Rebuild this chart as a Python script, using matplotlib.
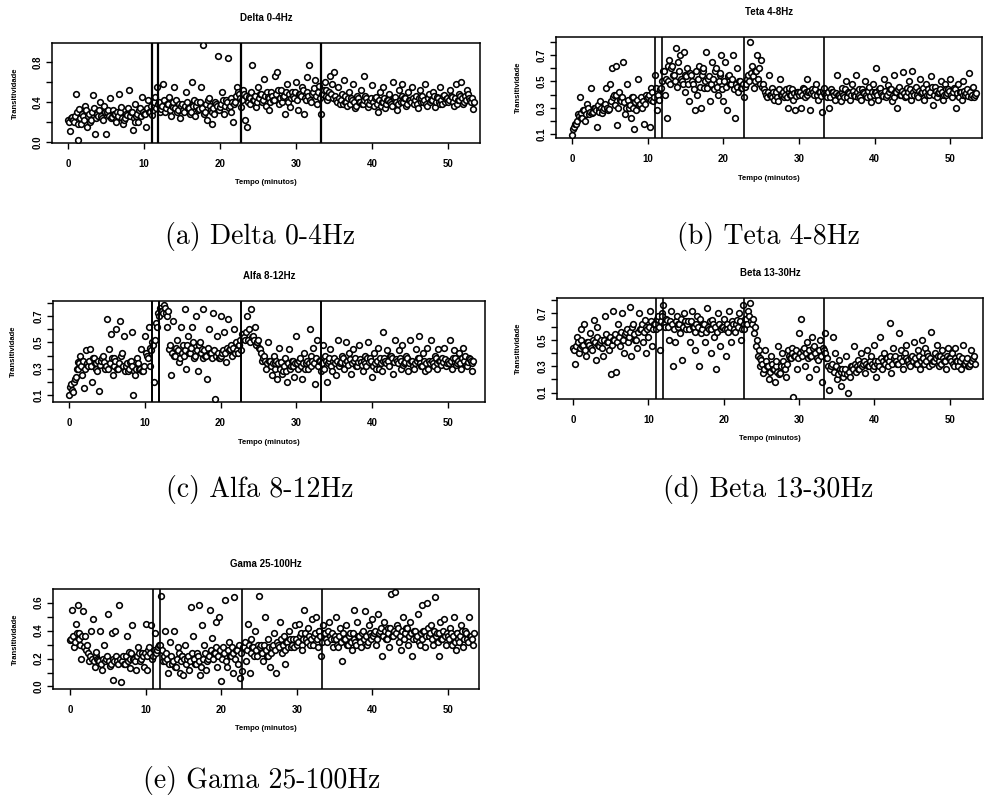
"""
Transitividade por banda de frequencia ao longo do tempo.
"""

import numpy as np
import matplotlib
matplotlib.use("Agg")
import matplotlib.pyplot as plt

plt.rcParams["font.family"] = ["Liberation Sans", "DejaVu Sans"]

# ── Dados (transitividade x100) ─────────────────────────────────────────────
# Duas listas por banda, intercaladas no tempo: amostra a cada 0.125 min.

PASSO_MIN = 0.125
MARCOS_MIN = [11.0, 11.9, 22.75, 33.3]

delta = [
    22, 11, 25, 20, 48, 2, 33, 18, 26, 36, 15, 28, 22, 47, 8, 30, 26, 40, 24, 36,
    8, 32, 44, 25, 28, 22, 30, 48, 35, 18, 24, 27, 52, 30, 12, 38, 26, 20, 34, 45,
    28, 15, 42, 30, 27, 36, 45, 55, 40, 33, 58, 30, 38, 45, 26, 35, 55, 42, 32, 24,
    38, 30, 50, 34, 28, 60, 36, 26, 40, 33, 55, 97, 30, 22, 44, 32, 18, 28, 38, 86,
    35, 50, 28, 42, 84, 36, 30, 20, 40, 55, 48, 35, 52, 22, 15, 45, 38, 77, 42, 35,
    55, 48, 40, 63, 36, 45, 32, 50, 42, 66, 70, 38, 52, 45, 28, 58, 40, 35, 50, 44,
    60, 32, 48, 55, 28, 42, 65, 77, 40, 50, 62, 38, 56, 28, 48, 60, 52, 45, 66, 58,
    70, 42, 55, 38, 48, 62, 40, 36, 50, 44, 58, 34, 46, 40, 52, 38, 66, 44, 35, 42,
    57, 36, 45, 30, 50, 40, 55, 34, 42, 48, 38, 60, 45, 32, 52, 40, 58, 44, 36, 50,
    42, 55, 38, 46, 34, 52, 44, 40, 58, 36, 48, 42, 50, 35, 45, 40, 55, 38, 47, 43,
    40, 52, 45, 36, 58, 42, 48, 60, 38, 46, 52, 44, 40, 33,
]
delta_nucleo = [
    20, 24, 22, 26, 30, 18, 24, 28, 22, 32, 26, 20, 30, 34, 24, 28, 32, 26, 22, 30,
    30, 26, 24, 32, 28, 20, 26, 30, 24, 22, 28, 34, 26, 30, 24, 20, 28, 32, 26, 30,
    28, 34, 30, 36, 32, 40, 34, 38, 30, 36, 42, 34, 38, 32, 36, 40, 34, 30, 38, 36,
    32, 36, 40, 34, 30, 38, 42, 36, 32, 40, 34, 28, 38, 42, 36, 30, 34, 40, 36, 32,
    38, 42, 36, 40, 34, 44, 40, 38, 46, 50, 44, 42, 48, 46, 40, 44, 50, 42, 46, 40,
    44, 48, 42, 46, 50, 44, 40, 46, 42, 48, 52, 44, 40, 46, 50, 42, 48, 44, 46, 50,
    42, 48, 46, 52, 44, 50, 46, 42, 48, 54, 46, 50, 44, 48, 52, 46, 42, 50, 48, 44,
    46, 40, 44, 42, 38, 46, 40, 44, 38, 42, 40, 36, 44, 40, 38, 42, 46, 40, 38, 44,
    40, 44, 38, 42, 36, 40, 44, 38, 42, 40, 36, 44, 40, 38, 42, 46, 40, 44, 38, 42,
    40, 44, 42, 38, 44, 40, 46, 42, 38, 44, 40, 42, 46, 40, 44, 38, 42, 46, 40, 44,
    42, 46, 40, 44, 38, 42, 46, 44, 40, 42, 48, 42, 44, 40,
]

teta = [
    9, 15, 18, 25, 38, 22, 28, 20, 33, 25, 45, 27, 30, 15, 28, 35, 26, 30, 45, 28,
    48, 60, 40, 62, 17, 42, 35, 65, 25, 48, 30, 22, 38, 14, 28, 52, 33, 30, 18, 40,
    38, 15, 45, 35, 55, 28, 36, 45, 58, 40, 22, 50, 48, 62, 55, 75, 65, 70, 50, 72,
    42, 60, 35, 55, 48, 28, 40, 62, 30, 58, 45, 72, 52, 35, 65, 44, 60, 40, 55, 70,
    35, 65, 28, 55, 48, 70, 22, 60, 42, 50, 45, 38, 48, 55, 80, 62, 45, 58, 70, 60,
    66, 48, 42, 38, 55, 40, 45, 36, 42, 35, 52, 40, 38, 44, 30, 45, 40, 36, 28, 42,
    40, 30, 45, 38, 52, 42, 28, 44, 40, 48, 36, 42, 27, 45, 40, 38, 30, 44, 42, 36,
    55, 40, 35, 45, 38, 50, 42, 36, 48, 40, 55, 38, 44, 36, 42, 50, 38, 46, 34, 48,
    42, 60, 36, 45, 40, 52, 38, 47, 44, 35, 55, 42, 30, 46, 40, 57, 38, 45, 50, 36,
    58, 40, 46, 38, 52, 42, 36, 48, 44, 40, 54, 32, 46, 38, 42, 50, 36, 48, 40, 44,
    52, 38, 45, 30, 48, 42, 36, 50, 40, 44, 56, 38, 46, 40,
]
teta_nucleo = [
    14, 18, 20, 24, 26, 22, 28, 25, 30, 27, 26, 30, 28, 32, 27, 30, 28, 33, 30, 29,
    35, 38, 32, 40, 30, 36, 38, 34, 30, 36, 32, 38, 30, 34, 36, 32, 38, 35, 33, 37,
    40, 36, 42, 38, 45, 40, 44, 50, 58, 52, 62, 66, 60, 55, 50, 46, 58, 52, 48, 55,
    54, 48, 56, 50, 44, 58, 52, 46, 55, 60, 50, 45, 54, 48, 52, 58, 46, 50, 56, 44,
    50, 46, 54, 48, 52, 44, 48, 46, 50, 45, 48, 46, 52, 50, 56, 54, 50, 58, 52, 48,
    46, 44, 40, 42, 40, 38, 42, 40, 38, 44, 40, 42, 40, 38, 42, 40, 44, 41, 39, 42,
    42, 40, 44, 42, 40, 43, 41, 42, 44, 40, 42, 39, 43, 41, 40, 42, 38, 42, 40, 41,
    40, 38, 42, 40, 44, 38, 41, 40, 43, 39, 42, 40, 38, 44, 41, 40, 43, 39, 42, 40,
    42, 40, 44, 41, 39, 43, 40, 42, 44, 40, 38, 42, 44, 40, 43, 41, 39, 42, 44, 40,
    42, 44, 40, 43, 41, 45, 42, 40, 44, 42, 46, 40, 43, 41, 44, 42, 40, 44, 41, 43,
    40, 42, 44, 41, 38, 42, 40, 43, 41, 39, 42, 40, 38, 41,
]

alfa = [
    10, 18, 12, 22, 30, 35, 40, 25, 15, 44, 32, 45, 20, 38, 34, 28, 13, 36, 40, 30,
    68, 45, 56, 25, 38, 60, 30, 66, 42, 55, 32, 28, 35, 58, 10, 25, 38, 30, 45, 28,
    55, 40, 62, 32, 50, 20, 65, 72, 76, 74, 78, 72, 62, 45, 25, 66, 40, 52, 35, 62,
    48, 75, 30, 55, 42, 62, 38, 70, 28, 50, 45, 75, 40, 22, 60, 42, 72, 7, 55, 38,
    70, 42, 58, 35, 68, 45, 40, 60, 50, 42, 48, 44, 56, 52, 70, 60, 75, 55, 62, 50,
    52, 45, 36, 40, 30, 50, 36, 25, 40, 34, 22, 46, 35, 28, 38, 20, 45, 32, 36, 24,
    55, 30, 38, 22, 42, 34, 30, 60, 40, 46, 18, 52, 36, 28, 48, 40, 20, 36, 45, 28,
    38, 25, 52, 34, 40, 30, 50, 36, 42, 26, 45, 38, 32, 48, 35, 28, 40, 32, 50, 38,
    24, 42, 30, 46, 38, 28, 58, 36, 44, 32, 40, 26, 52, 36, 44, 30, 48, 34, 40, 28,
    52, 36, 30, 45, 38, 55, 32, 42, 28, 46, 36, 52, 34, 40, 30, 45, 36, 38, 46, 32,
    36, 52, 30, 44, 38, 34, 42, 30, 46, 40, 32, 38, 36, 28,
]
alfa_nucleo = [
    16, 14, 20, 24, 30, 34, 32, 36, 30, 34, 36, 32, 38, 34, 30, 36, 33, 38, 35, 32,
    30, 34, 38, 32, 36, 30, 34, 40, 32, 28, 34, 30, 36, 32, 28, 30, 34, 30, 28, 32,
    42, 38, 46, 44, 48, 52, 62, 70, 74, 72, 76, 70, 74, 48, 42, 40, 46, 44, 38, 42,
    40, 44, 48, 42, 46, 50, 40, 44, 48, 42, 38, 44, 40, 46, 42, 38, 44, 40, 42, 38,
    40, 44, 42, 46, 44, 48, 46, 42, 44, 48, 52, 56, 54, 58, 52, 50, 54, 52, 48, 50,
    46, 42, 38, 36, 34, 36, 32, 34, 30, 36, 34, 30, 26, 32, 28, 34, 30, 36, 32, 34,
    34, 36, 32, 34, 30, 36, 34, 32, 36, 34, 38, 32, 36, 34, 30, 36, 34, 38, 32, 36,
    34, 36, 32, 35, 38, 34, 36, 33, 37, 34, 36, 32, 35, 37, 33, 36, 34, 38, 35, 36,
    32, 34, 36, 30, 34, 36, 38, 34, 36, 40, 38, 35, 37, 34, 38, 36, 33, 35, 38, 34,
    36, 32, 34, 36, 38, 34, 32, 36, 34, 30, 34, 36, 32, 38, 34, 36, 33, 35, 37, 34,
    34, 36, 38, 35, 33, 36, 34, 38, 36, 33, 35, 37, 34, 36,
]

beta = [
    44, 32, 52, 40, 58, 45, 62, 38, 48, 55, 42, 65, 35, 60, 45, 50, 38, 68, 48, 42,
    24, 72, 50, 26, 62, 45, 70, 40, 56, 48, 75, 38, 62, 50, 44, 70, 58, 48, 65, 40,
    52, 72, 45, 62, 58, 68, 42, 70, 76, 60, 65, 50, 72, 30, 48, 68, 62, 55, 35, 70,
    58, 64, 48, 72, 60, 42, 68, 30, 55, 62, 48, 74, 58, 40, 65, 52, 28, 70, 45, 60,
    66, 38, 58, 72, 48, 62, 56, 65, 70, 50, 76, 58, 66, 72, 78, 62, 55, 45, 38, 30,
    35, 25, 42, 30, 20, 38, 28, 18, 34, 45, 25, 40, 30, 22, 42, 36, 44, 7, 38, 28,
    55, 66, 42, 30, 48, 22, 38, 52, 45, 28, 35, 50, 18, 42, 55, 36, 12, 30, 52, 40,
    20, 35, 15, 28, 25, 38, 10, 22, 30, 45, 26, 35, 28, 40, 32, 25, 42, 30, 38, 28,
    46, 22, 34, 52, 28, 40, 36, 30, 63, 25, 44, 38, 32, 55, 42, 28, 40, 46, 35, 30,
    38, 48, 32, 42, 28, 50, 36, 44, 40, 30, 56, 34, 40, 46, 30, 38, 42, 34, 28, 44,
    36, 40, 30, 44, 34, 38, 28, 46, 32, 36, 30, 42, 34, 38,
]
beta_nucleo = [
    42, 45, 48, 44, 50, 46, 42, 48, 46, 44, 50, 48, 52, 46, 48, 44, 50, 54, 48, 52,
    46, 50, 54, 48, 52, 56, 50, 54, 58, 52, 56, 60, 54, 50, 56, 58, 62, 56, 60, 58,
    60, 64, 58, 62, 66, 60, 64, 68, 62, 66, 60, 64, 62, 58, 64, 60, 62, 66, 60, 64,
    62, 58, 64, 60, 56, 62, 60, 66, 58, 62, 56, 60, 64, 58, 62, 60, 56, 62, 58, 60,
    58, 62, 56, 60, 64, 58, 62, 60, 64, 58, 62, 66, 62, 68, 64, 66, 60, 50, 42, 36,
    32, 28, 34, 30, 26, 32, 28, 30, 26, 24, 30, 34, 28, 32, 38, 36, 40, 38, 42, 36,
    40, 38, 44, 40, 36, 42, 38, 44, 40, 36, 42, 38, 44, 40, 36, 30, 28, 32, 26, 30,
    24, 28, 26, 22, 28, 24, 26, 30, 28, 32, 30, 28, 32, 30, 34, 32, 30, 34, 32, 30,
    34, 32, 30, 36, 34, 32, 36, 34, 38, 32, 36, 34, 32, 36, 34, 38, 36, 34, 32, 36,
    34, 36, 32, 38, 34, 36, 32, 34, 38, 36, 32, 34, 36, 38, 34, 32, 36, 34, 38, 36,
    34, 32, 36, 34, 30, 34, 36, 32, 34, 30, 32, 34, 36, 32,
]

gama = [
    33, 55, 28, 45, 58, 38, 20, 54, 36, 30, 18, 40, 48, 14, 25, 19, 40, 12, 30, 20,
    52, 15, 38, 5, 40, 18, 58, 3, 22, 16, 36, 25, 13, 44, 20, 12, 28, 18, 24, 14,
    45, 12, 28, 44, 22, 38, 26, 30, 65, 18, 40, 24, 10, 32, 16, 40, 14, 28, 10, 22,
    8, 30, 20, 12, 57, 36, 16, 24, 58, 8, 44, 30, 12, 20, 55, 35, 24, 46, 14, 50,
    4, 28, 62, 14, 32, 22, 10, 64, 26, 16, 6, 11, 28, 18, 45, 10, 34, 28, 40, 22,
    65, 30, 18, 50, 22, 34, 14, 28, 38, 10, 30, 46, 24, 36, 16, 32, 40, 28, 34, 44,
    30, 45, 38, 26, 55, 34, 42, 30, 48, 36, 50, 28, 40, 22, 44, 38, 32, 46, 34, 28,
    36, 50, 28, 42, 18, 34, 44, 30, 38, 26, 55, 32, 46, 36, 28, 40, 54, 30, 44, 36,
    48, 38, 30, 52, 40, 22, 46, 34, 42, 28, 66, 36, 68, 44, 32, 26, 50, 38, 42, 30,
    46, 22, 40, 34, 52, 30, 58, 40, 28, 60, 36, 44, 30, 64, 38, 22, 46, 34, 48, 30,
    36, 42, 30, 50, 26, 38, 32, 44, 28, 40, 34, 50, 36, 30,
]
gama_nucleo = [
    34, 36, 32, 38, 34, 30, 36, 28, 26, 24, 22, 20, 18, 22, 20, 18, 16, 20, 18, 22,
    18, 16, 20, 18, 22, 16, 20, 18, 16, 22, 18, 20, 24, 20, 18, 22, 24, 20, 22, 24,
    22, 26, 24, 20, 26, 24, 28, 30, 26, 22, 18, 20, 16, 22, 18, 14, 20, 24, 18, 22,
    20, 16, 22, 18, 24, 20, 16, 22, 18, 14, 20, 24, 18, 22, 26, 20, 24, 28, 22, 26,
    20, 24, 18, 26, 22, 28, 24, 20, 26, 30, 24, 28, 32, 26, 30, 24, 28, 22, 26, 30,
    28, 24, 30, 26, 22, 28, 24, 30, 26, 32, 28, 34, 30, 26, 32, 28, 34, 30, 28, 34,
    32, 36, 30, 34, 38, 32, 36, 34, 30, 38, 34, 40, 36, 32, 38, 34, 40, 36, 38, 34,
    34, 30, 36, 32, 38, 34, 30, 36, 32, 38, 34, 30, 36, 32, 38, 34, 36, 32, 38, 34,
    36, 40, 34, 38, 42, 36, 40, 34, 38, 42, 36, 40, 38, 42, 36, 40, 34, 38, 42, 36,
    38, 34, 40, 36, 32, 38, 34, 40, 36, 42, 38, 34, 40, 36, 32, 38, 34, 40, 36, 38,
    34, 38, 36, 32, 38, 34, 36, 40, 34, 38, 32, 36, 34, 38,
]

# ── Layout (pixels of the 986x795 page) ─────────────────────────────────────

W, H = 986, 795

PANELS = [
    dict(vals=(delta, delta_nucleo), title="Delta 0-4Hz", caption="(a) Delta 0-4Hz",
         box=(52, 480, 43, 143), xlim=(-2.11, 54.2), ylim=(-0.01, 0.99),
         yticks=[0.0, 0.2, 0.4, 0.6, 0.8], ylab=[0.0, 0.4, 0.8],
         cap=(260, 244), ylx=15, vlw=1.6),
    dict(vals=(teta, teta_nucleo), title="Teta 4-8Hz", caption="(b) Teta 4-8Hz",
         box=(556, 982, 37, 138), xlim=(-2.12, 54.2), ylim=(0.07, 0.837),
         yticks=[0.1, 0.2, 0.3, 0.4, 0.5, 0.6, 0.7, 0.8], ylab=[0.1, 0.3, 0.5, 0.7],
         cap=(768, 244), ylx=518, vlw=1.2),
    dict(vals=(alfa, alfa_nucleo), title="Alfa 8-12Hz", caption="(c) Alfa 8-12Hz",
         box=(53, 485, 301, 402), xlim=(-2.11, 54.9), ylim=(0.047, 0.814),
         yticks=[0.1, 0.2, 0.3, 0.4, 0.5, 0.6, 0.7, 0.8], ylab=[0.1, 0.3, 0.5, 0.7],
         cap=(260, 497), ylx=13, vlw=1.4),
    dict(vals=(beta, beta_nucleo), title="Beta 13-30Hz", caption="(d) Beta 13-30Hz",
         box=(557, 983, 298, 399), xlim=(-2.12, 54.4), ylim=(0.052, 0.816),
         yticks=[0.1, 0.2, 0.3, 0.4, 0.5, 0.6, 0.7, 0.8], ylab=[0.1, 0.3, 0.5, 0.7],
         cap=(768, 497), ylx=518, vlw=1.2),
    dict(vals=(gama, gama_nucleo), title="Gama 25-100Hz", caption="(e) Gama 25-100Hz",
         box=(53, 479, 589, 689), xlim=(-2.25, 54.1), ylim=(-0.018, 0.698),
         yticks=[0.0, 0.1, 0.2, 0.3, 0.4, 0.5, 0.6], ylab=[0.0, 0.2, 0.4, 0.6],
         cap=(262, 788), ylx=15, vlw=1.2),
]


def fx(px):
    return px / W


def fy(py):
    return 1 - py / H


fig = plt.figure(figsize=(W / 100, H / 100), dpi=100)
fig.patch.set_facecolor("white")

for p in PANELS:
    left, right, top, bottom = p["box"]
    ax = fig.add_axes([fx(left), fy(bottom), fx(right - left), (bottom - top) / H])

    a, b = p["vals"]
    vals = np.column_stack([a, b]).ravel() / 100.0
    tempo = np.arange(len(vals)) * PASSO_MIN
    ax.plot(tempo, vals, "o", linestyle="none", ms=4.1,
            mfc="white", mec="black", mew=1.15, zorder=3)
    for m in MARCOS_MIN:
        ax.axvline(m, color="black", lw=p["vlw"], zorder=4)

    ax.set_xlim(*p["xlim"])
    ax.set_ylim(*p["ylim"])
    ax.set_xticks([0, 10, 20, 30, 40, 50])
    ax.set_yticks(p["yticks"])
    ax.set_yticklabels([f"{v:.1f}" if any(abs(v - l) < 1e-9 for l in p["ylab"]) else ""
                        for v in p["yticks"]])
    ax.tick_params(axis="x", length=4, width=1, pad=7.5, labelsize=7)
    ax.tick_params(axis="y", length=4, width=1, pad=2.5, labelsize=7)
    for lbl in ax.get_xticklabels() + ax.get_yticklabels():
        lbl.set_fontweight("bold")
    for lbl in ax.get_yticklabels():
        lbl.set_rotation(90)
        lbl.set_va("center")
    for spine in ax.spines.values():
        spine.set_linewidth(1.1)

    cx = (left + right) / 2
    fig.text(fx(cx), fy(top - 25), p["title"], ha="center", va="center",
             fontsize=7, fontweight="bold")
    fig.text(fx(cx), fy(bottom + 40), "Tempo (minutos)", ha="center", va="center",
             fontsize=5.5, fontweight="bold")
    fig.text(fx(p["ylx"]), fy((top + bottom) / 2), "Transitividade", ha="center",
             va="center", rotation=90, fontsize=5.5, fontweight="bold")
    fig.text(fx(p["cap"][0]), fy(p["cap"][1]), p["caption"], ha="center",
             va="baseline", fontsize=20, family="cmr10")

fig.savefig("out.png", dpi=100, facecolor="white")
